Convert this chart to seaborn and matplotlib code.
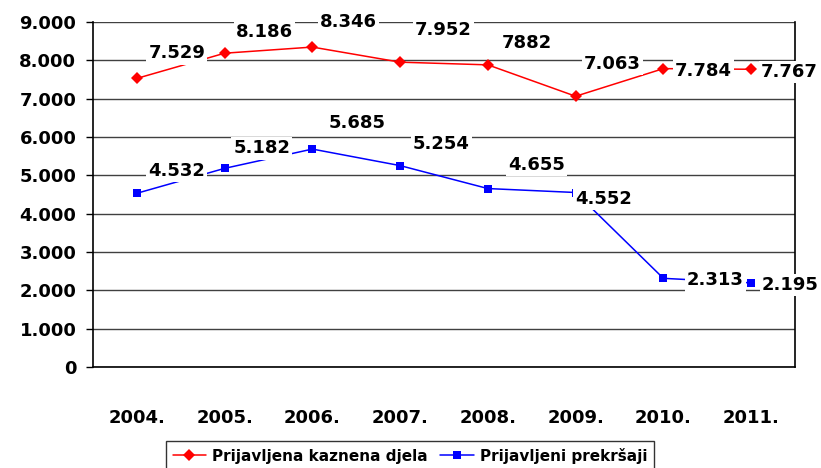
import matplotlib
matplotlib.use("Agg")
import matplotlib.pyplot as plt
import seaborn as sns
import pandas as pd
import numpy as np

years = ["2004.", "2005.", "2006.", "2007.", "2008.", "2009.", "2010.", "2011."]
kaznena = [7529, 8186, 8346, 7952, 7882, 7063, 7784, 7767]
prekrsaji = [4532, 5182, 5685, 5254, 4655, 4552, 2313, 2195]
kaznena_labels = ["7.529", "8.186", "8.346", "7.952", "7882", "7.063", "7.784", "7.767"]
prekrsaji_labels = ["4.532", "5.182", "5.685", "5.254", "4.655", "4.552", "2.313", "2.195"]
series_names = ["Prijavljena kaznena djela", "Prijavljeni prekršaji"]
yticks = [0, 1000, 2000, 3000, 4000, 5000, 6000, 7000, 8000, 9000]
ytick_labels = ["0", "1.000", "2.000", "3.000", "4.000", "5.000", "6.000", "7.000", "8.000", "9.000"]

# label offsets in pixels (dx, dy) – styling only
red_off = [(40, 25), (40, 21), (36, 25), (43, 32), (39, 22), (37, 32), (40, -2), (38, -3)]
blue_off = [(40, 22), (37, 20), (45, 26), (41, 22), (49, 24), (28, -6), (52, -2), (39, -2)]

sns.set_style("white")
plt.rcParams['font.family'] = ['DejaVu Sans']
plt.rcParams['text.color'] = 'black'
plt.rcParams['xtick.color'] = 'black'
plt.rcParams['ytick.color'] = 'black'
plt.rcParams['axes.labelcolor'] = 'black'

fig = plt.figure(figsize=(8.21, 4.68), dpi=100)
ax = fig.add_axes([93/821, 1-367/468, (795-93)/821, (367-22)/468])

idx = np.arange(len(years))
df = pd.DataFrame({
    "x": np.concatenate([idx, idx]),
    "y": kaznena + prekrsaji,
    "s": [series_names[0]]*len(years) + [series_names[1]]*len(years),
})
sns.lineplot(data=df, x="x", y="y", hue="s", style="s",
             palette=["#ff0000", "#0000ff"], markers=["D", "s"], dashes=False,
             markersize=6, linewidth=1.1, markeredgewidth=0, ax=ax, legend=True, zorder=3)

fs = 13
for i in idx:
    ax.annotate(kaznena_labels[i], (i, kaznena[i]), xytext=red_off[i], textcoords="offset pixels",
                ha="center", va="center", fontsize=fs, fontweight="bold", color="black", zorder=5,
                bbox=dict(boxstyle="square,pad=0.12", fc="white", ec="none"))
    ax.annotate(prekrsaji_labels[i], (i, prekrsaji[i]), xytext=blue_off[i], textcoords="offset pixels",
                ha="center", va="center", fontsize=fs, fontweight="bold", color="black", zorder=5,
                bbox=dict(boxstyle="square,pad=0.12", fc="white", ec="none"))

ax.set_xlim(-0.5, len(years)-0.5)
ax.set_ylim(0, 9000)
ax.set_yticks(yticks)
ax.set_yticklabels(ytick_labels, fontsize=fs, fontweight="bold", color="black")
ax.set_xticks(idx)
ax.set_xticklabels(years, fontsize=fs, fontweight="bold", color="black")
ax.set_xticks(np.arange(-0.5, len(years), 1), minor=True)
ax.tick_params(axis="x", which="major", length=0, pad=30)
ax.tick_params(axis="x", which="minor", length=5, width=1, color="black", direction="out")
ax.tick_params(axis="y", length=5, width=1, color="black", direction="out", pad=7, left=True)
ax.set_xlabel("")
ax.set_ylabel("")
ax.grid(axis="y", color="#404040", linewidth=1, zorder=0)
ax.set_axisbelow(True)
for side in ["left", "bottom", "right"]:
    ax.spines[side].set_visible(True)
    ax.spines[side].set_color("black")
    ax.spines[side].set_linewidth(1.2)
ax.spines["top"].set_visible(False)

handles, labels = ax.get_legend_handles_labels()
ax.legend_.remove()
fig.legend(handles, labels, loc="upper center", bbox_to_anchor=(410/821, 1-433/468),
           ncol=2, frameon=True, fancybox=False, edgecolor="black",
           prop=dict(size=11, weight="bold"), handlelength=2.2, columnspacing=0.8,
           handletextpad=0.4, borderpad=0.45)

fig.savefig("out.png", dpi=100)
